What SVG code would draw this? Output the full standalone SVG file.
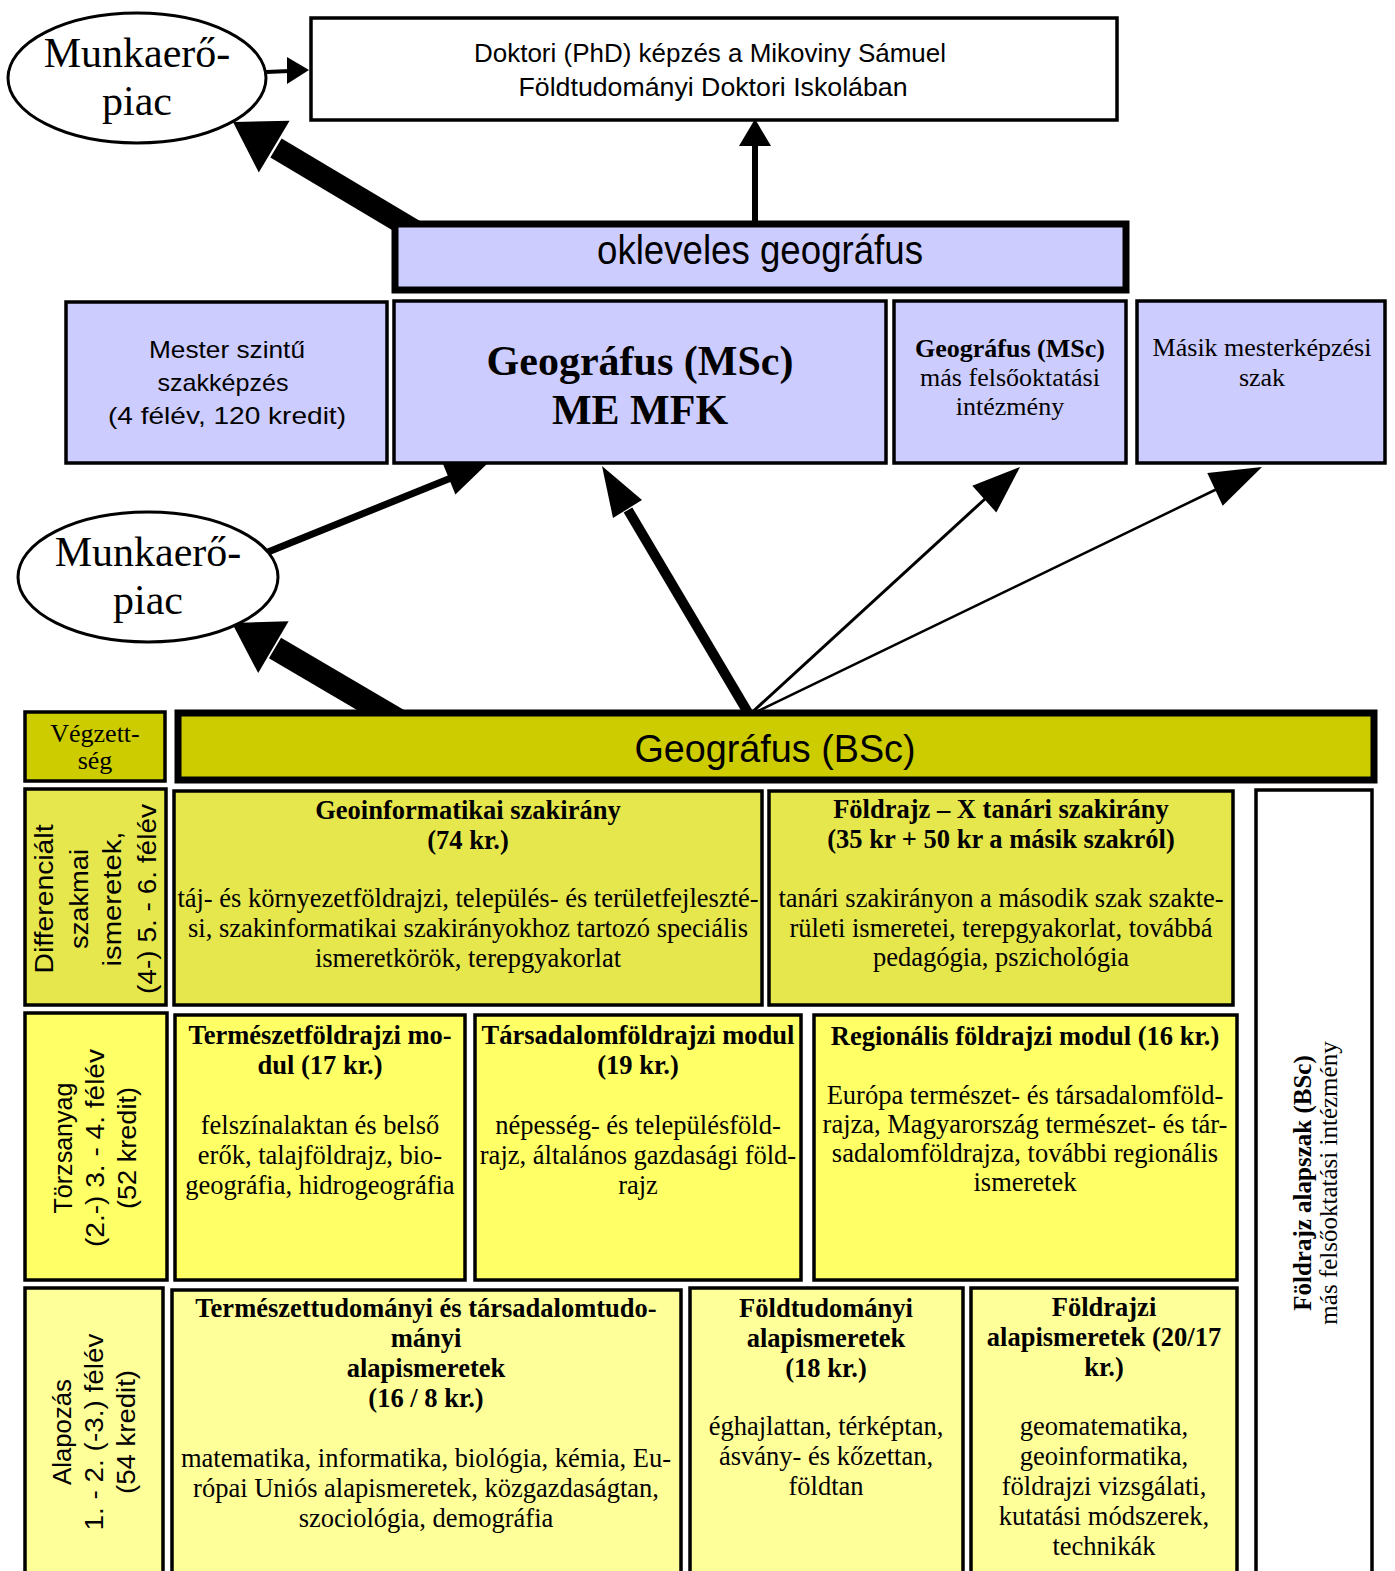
<svg xmlns="http://www.w3.org/2000/svg" width="1395" height="1571" viewBox="0 0 1395 1571">
<style>
.box{stroke:#000;stroke-width:3.5}
.msc{fill:#ccccff}
.dif{fill:#e6e64d}
.tor{fill:#ffff66}
.ala{fill:#ffff99}
.olive{fill:#cccc00}
.white{fill:#fff}
.ser{font-family:"Liberation Serif","Times New Roman",serif;fill:#000;text-anchor:middle}
.sans{font-family:"Liberation Sans",Arial,sans-serif;fill:#000;text-anchor:middle}
.g{font-size:26.5px}
.b{font-weight:bold}
.v{font-size:25px}
.arr{stroke:#000;fill:none}
.head{fill:#000;stroke:none}
</style>
<rect width="1395" height="1571" fill="#fff"/>

<g id="connectors">
  <line class="arr" x1="266" y1="72" x2="290" y2="71" stroke-width="4"/>
  <polygon class="head" points="309,70 287,57 287,84"/>
  <line class="arr" x1="755" y1="225" x2="755" y2="144" stroke-width="6"/>
  <polygon class="head" points="755,119 739,146 771,146"/>
  <line class="arr" x1="427" y1="238" x2="276" y2="148" stroke-width="22"/>
  <polygon class="head" points="233,122 289.6,120.8 258.8,172.4"/>
  <line class="arr" x1="401" y1="722" x2="275" y2="648" stroke-width="24"/>
  <polygon class="head" points="232,623 288.6,621.3 258.2,673.1"/>
  <line class="arr" x1="750" y1="716" x2="628" y2="510" stroke-width="10"/>
  <polygon class="head" points="602,466 642,500 613,518"/>
  <line class="arr" x1="748" y1="716" x2="986" y2="498" stroke-width="3"/>
  <polygon class="head" points="1020,467 996.3,512.5 972.3,485.7"/>
  <line class="arr" x1="748" y1="716" x2="1217" y2="489" stroke-width="2.5"/>
  <polygon class="head" points="1262,467 1222.7,505.7 1207.3,473.1"/>
  <line class="arr" x1="268" y1="552" x2="451" y2="478" stroke-width="7"/>
  <polygon class="head" points="488,463 455.4,494.6 442.6,463"/>
</g>

<g id="munkaero-top">
  <ellipse cx="137" cy="78" rx="129" ry="65" fill="#fff" stroke="#000" stroke-width="3"/>
  <text class="ser" x="137" y="67" font-size="42">Munkaerő-</text>
  <text class="ser" x="137" y="115" font-size="42">piac</text>
</g>

<g id="phd">
  <rect class="box white" x="311" y="18" width="806" height="102" stroke-width="3"/>
  <text class="sans" x="710" y="62" font-size="25" textLength="472" lengthAdjust="spacingAndGlyphs">Doktori (PhD) képzés a Mikoviny Sámuel</text>
  <text class="sans" x="713" y="96" font-size="25" textLength="389" lengthAdjust="spacingAndGlyphs">Földtudományi Doktori Iskolában</text>
</g>

<g id="okleveles">
  <rect class="msc" x="395" y="224" width="731" height="66" stroke="#000" stroke-width="7"/>
  <text class="sans" x="760" y="264" font-size="40" textLength="326" lengthAdjust="spacingAndGlyphs">okleveles geográfus</text>
</g>

<g id="mester">
  <rect class="box msc" x="66" y="302" width="321" height="161"/>
  <text class="sans" x="227" y="358" font-size="24" textLength="156" lengthAdjust="spacingAndGlyphs">Mester szintű</text>
  <text class="sans" x="223" y="391" font-size="24" textLength="131" lengthAdjust="spacingAndGlyphs">szakképzés</text>
  <text class="sans" x="227" y="424" font-size="24" textLength="238" lengthAdjust="spacingAndGlyphs">(4 félév, 120 kredit)</text>
</g>

<g id="msc-me">
  <rect class="box msc" x="394" y="301" width="492" height="162"/>
  <text class="ser b" x="640" y="375" font-size="42">Geográfus (MSc)</text>
  <text class="ser b" x="640" y="424" font-size="42">ME MFK</text>
</g>

<g id="msc-mas">
  <rect class="box msc" x="894" y="301" width="232" height="162"/>
  <text class="ser b" x="1010" y="357" font-size="26">Geográfus (MSc)</text>
  <text class="ser" x="1010" y="386" font-size="26">más felsőoktatási</text>
  <text class="ser" x="1010" y="415" font-size="26">intézmény</text>
</g>

<g id="masik">
  <rect class="box msc" x="1137" y="301" width="248" height="162"/>
  <text class="ser" x="1262" y="356" font-size="26">Másik mesterképzési</text>
  <text class="ser" x="1262" y="386" font-size="26">szak</text>
</g>

<g id="munkaero-mid">
  <ellipse cx="148" cy="577" rx="130" ry="65" fill="#fff" stroke="#000" stroke-width="3"/>
  <text class="ser" x="148" y="566" font-size="42">Munkaerő-</text>
  <text class="ser" x="148" y="614" font-size="42">piac</text>
</g>

<g id="vegzettseg">
  <rect class="box olive" x="25" y="712" width="140" height="69"/>
  <text class="ser" x="95" y="742" font-size="26">Végzett-</text>
  <text class="ser" x="95" y="769" font-size="26">ség</text>
</g>

<g id="bsc">
  <rect class="olive" x="178" y="713" width="1196" height="67" stroke="#000" stroke-width="7"/>
  <text class="sans" x="775" y="762" font-size="38" textLength="281" lengthAdjust="spacingAndGlyphs">Geográfus (BSc)</text>
</g>

<g id="label-differencialt">
  <rect class="box dif" x="25" y="789" width="141" height="216"/>
  <text class="sans v" transform="translate(53,899) rotate(-90)" textLength="149" lengthAdjust="spacingAndGlyphs">Differenciált</text>
  <text class="sans v" transform="translate(88,899) rotate(-90)" textLength="100" lengthAdjust="spacingAndGlyphs">szakmai</text>
  <text class="sans v" transform="translate(121,899) rotate(-90)" textLength="135" lengthAdjust="spacingAndGlyphs">ismeretek,</text>
  <text class="sans v" transform="translate(156,899) rotate(-90)" textLength="190" lengthAdjust="spacingAndGlyphs">(4-) 5. - 6. félév</text>
</g>

<g id="geoinformatikai">
  <rect class="box dif" x="174" y="791" width="588" height="214"/>
  <text class="ser g b" x="468" y="819">Geoinformatikai szakirány</text>
  <text class="ser g b" x="468" y="849">(74 kr.)</text>
  <text class="ser g" x="468" y="907">táj- és környezetföldrajzi, település- és területfejleszté-</text>
  <text class="ser g" x="468" y="937">si, szakinformatikai szakirányokhoz tartozó speciális</text>
  <text class="ser g" x="468" y="967">ismeretkörök, terepgyakorlat</text>
</g>

<g id="foldrajz-x">
  <rect class="box dif" x="769" y="791" width="464" height="214"/>
  <text class="ser g b" x="1001" y="818">Földrajz – X tanári szakirány</text>
  <text class="ser g b" x="1001" y="848">(35 kr + 50 kr a másik szakról)</text>
  <text class="ser g" x="1001" y="907">tanári szakirányon a második szak szakte-</text>
  <text class="ser g" x="1001" y="937">rületi ismeretei, terepgyakorlat, továbbá</text>
  <text class="ser g" x="1001" y="966">pedagógia, pszichológia</text>
</g>

<g id="label-torzsanyag">
  <rect class="box tor" x="25" y="1013" width="142" height="267"/>
  <text class="sans v" transform="translate(72,1148) rotate(-90)" textLength="131" lengthAdjust="spacingAndGlyphs">Törzsanyag</text>
  <text class="sans v" transform="translate(104,1148) rotate(-90)" textLength="198" lengthAdjust="spacingAndGlyphs">(2.-) 3. - 4. félév</text>
  <text class="sans v" transform="translate(136,1148) rotate(-90)" textLength="122" lengthAdjust="spacingAndGlyphs">(52 kredit)</text>
</g>

<g id="termeszetfoldrajzi">
  <rect class="box tor" x="175" y="1015" width="290" height="265"/>
  <text class="ser g b" x="320" y="1044">Természetföldrajzi mo-</text>
  <text class="ser g b" x="320" y="1074">dul (17 kr.)</text>
  <text class="ser g" x="320" y="1134">felszínalaktan és belső</text>
  <text class="ser g" x="320" y="1164">erők, talajföldrajz, bio-</text>
  <text class="ser g" x="320" y="1194">geográfia, hidrogeográfia</text>
</g>

<g id="tarsadalomfoldrajzi">
  <rect class="box tor" x="475" y="1015" width="326" height="265"/>
  <text class="ser g b" x="638" y="1044">Társadalomföldrajzi modul</text>
  <text class="ser g b" x="638" y="1074">(19 kr.)</text>
  <text class="ser g" x="638" y="1134">népesség- és településföld-</text>
  <text class="ser g" x="638" y="1164">rajz, általános gazdasági föld-</text>
  <text class="ser g" x="638" y="1194">rajz</text>
</g>

<g id="regionalis">
  <rect class="box tor" x="814" y="1015" width="423" height="265"/>
  <text class="ser g b" x="1025" y="1045">Regionális földrajzi modul (16 kr.)</text>
  <text class="ser g" x="1025" y="1104">Európa természet- és társadalomföld-</text>
  <text class="ser g" x="1025" y="1133">rajza, Magyarország természet- és tár-</text>
  <text class="ser g" x="1025" y="1162">sadalomföldrajza, további regionális</text>
  <text class="ser g" x="1025" y="1191">ismeretek</text>
</g>

<g id="label-alapozas">
  <rect class="box ala" x="25" y="1288" width="138" height="300"/>
  <text class="sans v" transform="translate(71,1432) rotate(-90)" textLength="106" lengthAdjust="spacingAndGlyphs">Alapozás</text>
  <text class="sans v" transform="translate(103,1432) rotate(-90)" textLength="197" lengthAdjust="spacingAndGlyphs">1. - 2. (-3.) félév</text>
  <text class="sans v" transform="translate(135,1432) rotate(-90)" textLength="124" lengthAdjust="spacingAndGlyphs">(54 kredit)</text>
</g>

<g id="termeszettudomanyi">
  <rect class="box ala" x="172" y="1290" width="509" height="300"/>
  <text class="ser g b" x="426" y="1317">Természettudományi és társadalomtudo-</text>
  <text class="ser g b" x="426" y="1347">mányi</text>
  <text class="ser g b" x="426" y="1377">alapismeretek</text>
  <text class="ser g b" x="426" y="1407">(16 / 8 kr.)</text>
  <text class="ser g" x="426" y="1467">matematika, informatika, biológia, kémia, Eu-</text>
  <text class="ser g" x="426" y="1497">rópai Uniós alapismeretek, közgazdaságtan,</text>
  <text class="ser g" x="426" y="1527">szociológia, demográfia</text>
</g>

<g id="foldtudomanyi">
  <rect class="box ala" x="690" y="1288" width="273" height="300"/>
  <text class="ser g b" x="826" y="1317">Földtudományi</text>
  <text class="ser g b" x="826" y="1347">alapismeretek</text>
  <text class="ser g b" x="826" y="1377">(18 kr.)</text>
  <text class="ser g" x="826" y="1435">éghajlattan, térképtan,</text>
  <text class="ser g" x="826" y="1465">ásvány- és kőzettan,</text>
  <text class="ser g" x="826" y="1495">földtan</text>
</g>

<g id="foldrajzi-alap">
  <rect class="box ala" x="971" y="1288" width="266" height="300"/>
  <text class="ser g b" x="1104" y="1316">Földrajzi</text>
  <text class="ser g b" x="1104" y="1346">alapismeretek (20/17</text>
  <text class="ser g b" x="1104" y="1376">kr.)</text>
  <text class="ser g" x="1104" y="1435">geomatematika,</text>
  <text class="ser g" x="1104" y="1465">geoinformatika,</text>
  <text class="ser g" x="1104" y="1495">földrajzi vizsgálati,</text>
  <text class="ser g" x="1104" y="1525">kutatási módszerek,</text>
  <text class="ser g" x="1104" y="1555">technikák</text>
</g>

<g id="foldrajz-alapszak">
  <rect class="box white" x="1256" y="790" width="116" height="800"/>
  <text class="ser b" transform="translate(1311,1183) rotate(-90)" font-size="25">Földrajz alapszak (BSc)</text>
  <text class="ser" transform="translate(1337,1183) rotate(-90)" font-size="25">más felsőoktatási intézmény</text>
</g>
</svg>
